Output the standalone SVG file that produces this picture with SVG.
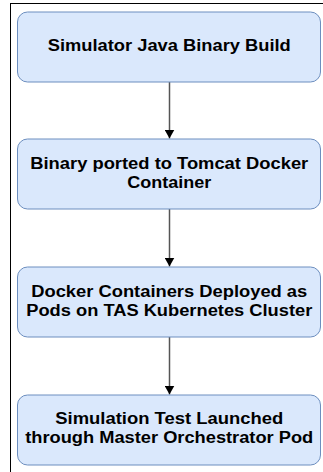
<svg xmlns="http://www.w3.org/2000/svg" width="323" height="472" viewBox="0 0 323 472">
<style>
.frame{fill:none;stroke:#000;stroke-width:1}
.box{fill:#dae8fc;stroke:#6c8ebf;stroke-width:1}
.lbl{font-family:"Liberation Sans",Arial,sans-serif;font-weight:bold;font-size:16px;fill:#000;text-anchor:middle}
.edge{stroke:#555;stroke-width:1.5;fill:none}
</style>
<defs>
<marker id="ah" markerWidth="10" markerHeight="10" refX="9" refY="5" orient="auto" markerUnits="userSpaceOnUse">
<path d="M0,0 L9,5 L0,10 Z" fill="#000"/>
</marker>
</defs>
<rect x="10.5" y="3.5" width="330" height="480" class="frame"/>
<g id="connectors">
<line class="edge" x1="169.5" y1="82" x2="169.5" y2="138.5" marker-end="url(#ah)"/>
<line class="edge" x1="169.5" y1="209" x2="169.5" y2="266.5" marker-end="url(#ah)"/>
<line class="edge" x1="169.5" y1="337" x2="169.5" y2="394.5" marker-end="url(#ah)"/>
</g>
<g id="node1">
<rect class="box" x="17.5" y="12" width="303" height="70" rx="10"/>
<text class="lbl" x="169.25" y="51" textLength="243" lengthAdjust="spacingAndGlyphs">Simulator Java Binary Build</text>
</g>
<g id="node2">
<rect class="box" x="17.5" y="139" width="303" height="70" rx="10"/>
<text class="lbl" x="169.25" y="168.5" textLength="278" lengthAdjust="spacingAndGlyphs">Binary ported to Tomcat Docker</text>
<text class="lbl" x="169.25" y="187.5" textLength="84" lengthAdjust="spacingAndGlyphs">Container</text>
</g>
<g id="node3">
<rect class="box" x="17.5" y="267" width="303" height="70" rx="10"/>
<text class="lbl" x="169.25" y="297" textLength="276" lengthAdjust="spacingAndGlyphs">Docker Containers Deployed as</text>
<text class="lbl" x="169.25" y="316" textLength="286" lengthAdjust="spacingAndGlyphs">Pods on TAS Kubernetes Cluster</text>
</g>
<g id="node4">
<rect class="box" x="17.5" y="395" width="303" height="70" rx="10"/>
<text class="lbl" x="169.25" y="424" textLength="228" lengthAdjust="spacingAndGlyphs">Simulation Test Launched</text>
<text class="lbl" x="169.25" y="443" textLength="288" lengthAdjust="spacingAndGlyphs">through Master Orchestrator Pod</text>
</g>
</svg>
